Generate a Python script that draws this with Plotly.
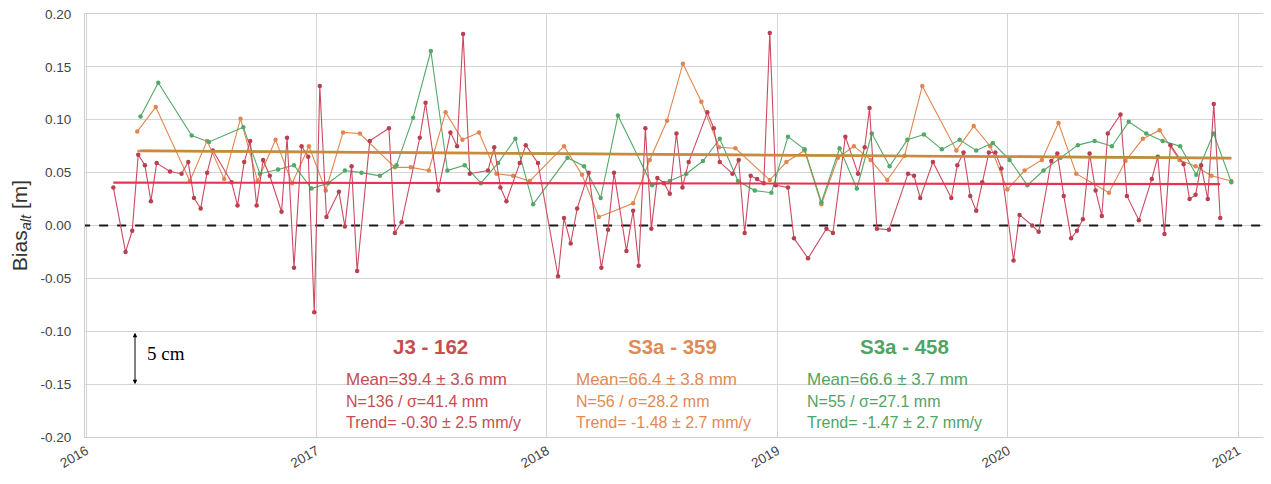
import plotly.graph_objects as go

# ---------------- data (decimal years, bias in m) ----------------
j3_t = [2016.118, 2016.171, 2016.200, 2016.226, 2016.255, 2016.281, 2016.306, 2016.364, 2016.414, 2016.443,
        2016.468, 2016.497, 2016.525, 2016.550, 2016.631, 2016.657, 2016.686, 2016.712, 2016.740, 2016.768,
        2016.797, 2016.848, 2016.872, 2016.902, 2016.935, 2016.964, 2016.990, 2017.014, 2017.043, 2017.097,
        2017.123, 2017.152, 2017.176, 2017.231, 2017.314, 2017.340, 2017.369, 2017.448, 2017.473, 2017.528,
        2017.581, 2017.610, 2017.636, 2017.665, 2017.744, 2017.771, 2017.798, 2017.824, 2017.882, 2017.908,
        2017.961, 2018.048, 2018.074, 2018.103, 2018.131, 2018.181, 2018.236, 2018.265, 2018.291, 2018.345,
        2018.374, 2018.398, 2018.427, 2018.453, 2018.479, 2018.508, 2018.533, 2018.562, 2018.588, 2018.615,
        2018.696, 2018.724, 2018.750, 2018.805, 2018.832, 2018.858, 2018.884, 2018.912, 2018.941, 2018.967,
        2018.993, 2019.046, 2019.072, 2019.133, 2019.213, 2019.241, 2019.295, 2019.350, 2019.379, 2019.400,
        2019.432, 2019.484, 2019.567, 2019.593, 2019.620, 2019.675, 2019.755, 2019.781, 2019.808, 2019.837,
        2019.863, 2019.889, 2019.918, 2019.946, 2019.972, 2020.025, 2020.051, 2020.106, 2020.134, 2020.189,
        2020.215, 2020.243, 2020.275, 2020.300, 2020.326, 2020.355, 2020.381, 2020.408, 2020.434, 2020.489,
        2020.517, 2020.569, 2020.625, 2020.651, 2020.680, 2020.706, 2020.763, 2020.789, 2020.815, 2020.839,
        2020.868, 2020.894, 2020.922]
j3_v = [0.036, -0.025, -0.005, 0.067, 0.057, 0.023, 0.059, 0.051, 0.049, 0.060,
        0.026, 0.016, 0.050, 0.071, 0.041, 0.019, 0.060, 0.080, 0.019, 0.062,
        0.047, 0.013, 0.083, -0.040, 0.075, 0.065, -0.082, 0.132, 0.008, 0.032,
        -0.001, 0.056, -0.043, 0.080, 0.092, -0.007, 0.003, 0.083, 0.116, 0.033,
        0.088, 0.075, 0.181, 0.049, 0.052, 0.074, 0.036, 0.023, 0.059, 0.076,
        0.059, -0.048, 0.007, -0.017, 0.016, 0.050, -0.040, -0.004, 0.050, -0.024,
        0.014, -0.038, 0.092, -0.003, 0.045, 0.040, 0.030, 0.087, 0.036, 0.060,
        0.107, 0.092, 0.060, 0.049, 0.062, -0.007, 0.047, 0.044, 0.040, 0.182,
        0.038, 0.036, -0.012, -0.031, -0.003, -0.007, 0.084, 0.049, 0.074, 0.111,
        -0.003, -0.004, 0.049, 0.047, 0.026, 0.060, 0.026, 0.057, 0.069, 0.028,
        0.014, 0.041, 0.069, 0.069, 0.054, -0.033, 0.010, 0.000, -0.006, 0.061,
        0.068, 0.028, -0.012, -0.005, 0.006, 0.068, 0.033, 0.009, 0.087, 0.105,
        0.028, 0.005, 0.044, 0.065, -0.008, 0.076, 0.058, 0.025, 0.029, 0.057,
        0.025, 0.115, 0.007]

s359_t = [2016.222, 2016.302, 2016.450, 2016.525, 2016.599, 2016.670, 2016.744, 2016.822, 2016.894, 2016.967,
          2017.040, 2017.115, 2017.188, 2017.340, 2017.409, 2017.487, 2017.560, 2017.633, 2017.705, 2017.781,
          2017.853, 2017.925, 2018.074, 2018.152, 2018.225, 2018.374, 2018.446, 2018.521, 2018.590, 2018.670,
          2018.747, 2018.818, 2018.967, 2019.039, 2019.118, 2019.191, 2019.263, 2019.332, 2019.405, 2019.477,
          2019.552, 2019.629, 2019.777, 2019.852, 2019.924, 2019.998, 2020.073, 2020.148, 2020.220, 2020.297,
          2020.439, 2020.511, 2020.586, 2020.659, 2020.745, 2020.815, 2020.884, 2020.970]
s359_v = [0.089, 0.112, 0.042, 0.080, 0.044, 0.101, 0.042, 0.081, 0.040, 0.075,
          0.033, 0.088, 0.087, 0.055, 0.055, 0.052, 0.107, 0.081, 0.088, 0.049,
          0.047, 0.042, 0.075, 0.048, 0.008, 0.021, 0.062, 0.099, 0.153, 0.117,
          0.074, 0.073, 0.043, 0.060, 0.071, 0.020, 0.064, 0.075, 0.062, 0.043,
          0.066, 0.132, 0.071, 0.094, 0.075, 0.034, 0.052, 0.062, 0.097, 0.049,
          0.031, 0.061, 0.082, 0.090, 0.062, 0.056, 0.047, 0.042]

s458_t = [2016.236, 2016.313, 2016.458, 2016.533, 2016.682, 2016.754, 2016.833, 2016.902, 2016.978, 2017.050,
          2017.123, 2017.195, 2017.275, 2017.347, 2017.419, 2017.496, 2017.568, 2017.643, 2017.713, 2017.788,
          2017.863, 2017.940, 2018.089, 2018.161, 2018.233, 2018.308, 2018.456, 2018.533, 2018.605, 2018.677,
          2018.750, 2018.829, 2018.902, 2018.974, 2019.046, 2019.118, 2019.191, 2019.270, 2019.345, 2019.410,
          2019.487, 2019.564, 2019.636, 2019.714, 2019.791, 2019.863, 2019.935, 2020.008, 2020.085, 2020.155,
          2020.229, 2020.304, 2020.377, 2020.452, 2020.525, 2020.601, 2020.672, 2020.748, 2020.818, 2020.893,
          2020.970]
s458_v = [0.103, 0.135, 0.085, 0.079, 0.093, 0.049, 0.053, 0.057, 0.035, 0.040,
          0.052, 0.050, 0.047, 0.057, 0.102, 0.165, 0.052, 0.057, 0.040, 0.059,
          0.082, 0.020, 0.064, 0.056, 0.026, 0.104, 0.038, 0.042, 0.049, 0.061,
          0.082, 0.042, 0.033, 0.031, 0.084, 0.072, 0.022, 0.073, 0.035, 0.087,
          0.056, 0.081, 0.086, 0.072, 0.081, 0.071, 0.078, 0.062, 0.038, 0.052,
          0.064, 0.076, 0.080, 0.075, 0.098, 0.087, 0.080, 0.075, 0.048, 0.087,
          0.041]

# trend lines: [start, end] time and value
j3_trend_t = [2016.118, 2020.922]
j3_trend_v = [0.0406, 0.0391]
s359_trend_t = [2016.222, 2020.970]
s359_trend_v = [0.0705, 0.0635]
s458_trend_t = [2016.236, 2020.970]
s458_trend_v = [0.0708, 0.0638]

year_ticks = [2016, 2017, 2018, 2019, 2020, 2021]
y_ticks = [-0.20, -0.15, -0.10, -0.05, 0.00, 0.05, 0.10, 0.15, 0.20]

RED = "#cc4a60"
RED_TREND = "#e8334e"
ORANGE = "#e0874f"
ORANGE_TREND = "#d4883c"
GREEN = "#55a868"

fig = go.Figure()

# zero line
fig.add_trace(go.Scatter(x=[2015.9, 2021.2], y=[0, 0], mode="lines",
                         line=dict(color="#1a1a1a", width=2, dash="dash"),
                         hoverinfo="skip", showlegend=False))

fig.add_trace(go.Scatter(x=s359_t, y=s359_v, mode="lines+markers",
                         line=dict(color=ORANGE, width=1.1),
                         marker=dict(size=4.5, color=ORANGE), showlegend=False))
fig.add_trace(go.Scatter(x=s458_t, y=s458_v, mode="lines+markers",
                         line=dict(color=GREEN, width=1.1),
                         marker=dict(size=4.5, color=GREEN), showlegend=False))
fig.add_trace(go.Scatter(x=j3_t, y=j3_v, mode="lines+markers",
                         line=dict(color=RED, width=1.1),
                         marker=dict(size=4.5, color="#b8404f"), showlegend=False))

fig.add_trace(go.Scatter(x=s458_trend_t, y=s458_trend_v, mode="lines",
                         line=dict(color="#8a9a40", width=2.4), showlegend=False))
fig.add_trace(go.Scatter(x=s359_trend_t, y=s359_trend_v, mode="lines",
                         line=dict(color=ORANGE_TREND, width=2.4), opacity=0.9, showlegend=False))
fig.add_trace(go.Scatter(x=j3_trend_t, y=j3_trend_v, mode="lines",
                         line=dict(color=RED_TREND, width=2.2), showlegend=False))

FONT = "Liberation Sans, Arial, sans-serif"

def block(xc, xl, title, lines, color):
    anns = [dict(x=xc, y=-0.1144, xref="x", yref="y", text="<b>" + title + "</b>",
                 showarrow=False, font=dict(size=20.5, color=color, family=FONT),
                 xanchor="center", yanchor="middle")]
    ys = [-0.1457, -0.1660, -0.1866]
    sizes = [17, 16, 16]
    for t, yy, s in zip(lines, ys, sizes):
        anns.append(dict(x=xl, y=yy, xref="x", yref="y", text=t, showarrow=False,
                         font=dict(size=s, color=color, family=FONT),
                         xanchor="left", yanchor="middle"))
    return anns

anns = []
anns += block(2017.495, 2017.118, "J3 - 162",
              ["Mean=39.4 ± 3.6 mm", "N=136 / σ=41.4 mm", "Trend= -0.30 ± 2.5 mm/y"], "#c44e52")
anns += block(2018.545, 2018.118, "S3a - 359",
              ["Mean=66.4 ± 3.8 mm", "N=56 / σ=28.2 mm", "Trend= -1.48 ± 2.7 mm/y"], "#e08a55")
anns += block(2019.552, 2019.122, "S3a - 458",
              ["Mean=66.6 ± 3.7 mm", "N=55 / σ=27.1 mm", "Trend= -1.47 ± 2.7 mm/y"], "#4fa564")

# 5 cm scale arrow (double headed)
anns.append(dict(x=2016.212, y=-0.150, ax=2016.212, ay=-0.100, xref="x", yref="y",
                 axref="x", ayref="y", text="", showarrow=True, arrowhead=2, startarrowhead=2,
                 arrowside="end+start", arrowsize=0.9, arrowwidth=1, arrowcolor="black",
                 startarrowsize=0.9))
anns.append(dict(x=2016.255, y=-0.1215, xref="x", yref="y", text="5 cm", showarrow=False,
                 font=dict(size=19, color="black", family="Liberation Serif, DejaVu Serif, serif"),
                 xanchor="left", yanchor="middle"))

# the page has an 8px body margin, so the figure is sized/margined to compensate
fig.update_layout(
    width=1263, height=476,
    margin=dict(l=77, r=4, t=6, b=47),
    paper_bgcolor="white", plot_bgcolor="white",
    font=dict(family=FONT, color="#444444"),
    annotations=anns,
    showlegend=False,
)
fig.update_xaxes(range=[2015.995, 2021.125], tickmode="array", tickvals=year_ticks,
                 ticktext=[str(y) for y in year_ticks], tickangle=-30,
                 showgrid=True, gridcolor="#d4d4d4", gridwidth=1, zeroline=False,
                 showline=True, linecolor="#cfcfcf", linewidth=1, mirror=True,
                 tickfont=dict(size=13.5, color="#444444"), ticks="", automargin=False,
                 ticklabeloverflow="allow")
fig.update_yaxes(range=[-0.2, 0.2], tickmode="array", tickvals=y_ticks,
                 ticktext=["%.2f" % v for v in y_ticks],
                 showgrid=True, gridcolor="#d4d4d4", gridwidth=1, zeroline=False,
                 showline=True, linecolor="#cfcfcf", linewidth=1, mirror=True,
                 tickfont=dict(size=13.5, color="#444444"), ticks="", ticklabelstandoff=10,
                 automargin=False, ticklabeloverflow="allow",
                 title=dict(text="Bias<sub><i>alt</i></sub> [m]", font=dict(size=21, color="#333333"),
                            standoff=14))

fig.write_html("out.html")
